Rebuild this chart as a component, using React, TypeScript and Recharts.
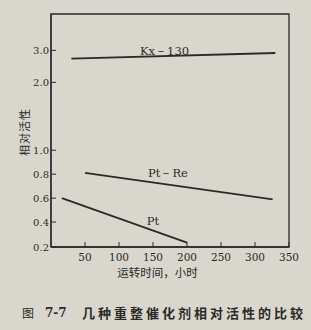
import React from "react";
import { LineChart, Line, XAxis, YAxis, ReferenceDot, ReferenceArea } from "recharts";

// ---- data ----
const TIME_KX = [30, 330];
const ACT_KX = [2.74, 2.92];
const TIME_PTRE = [50, 326];
const ACT_PTRE = [0.81, 0.59];
const TIME_PT = [16, 200];
const ACT_PT = [0.6, 0.235];

const X_TICKS = [50, 100, 150, 200, 250, 300, 350];
const Y_TICK_VALUES = [0.2, 0.4, 0.6, 0.8, 1.0, 2.0, 3.0];
const Y_TICK_LABELS = ["0.2", "0.4", "0.6", "0.8", "1.0", "2.0", "3.0"];
// the printed axis is non-uniform: position of each tick value on the axis
const Y_TICK_POS = [0, 25, 49, 73, 97, 165, 197];
const Y_TOP = 233.5;

const SERIES_LABELS = [
  { name: "Kx－130", t: 167, v: 3.0 },
  { name: "Pt－Re", t: 172, v: 0.81 },
  { name: "Pt", t: 150, v: 0.41 },
];

const X_TITLE = "运转时间，小时";
const Y_TITLE = "相对活性";
const CAPTION_FIG = "图";
const CAPTION_NO = "7-7";
const CAPTION = "几种重整催化剂相对活性的比较";

// piecewise-linear mapping of activity onto the printed axis
function toAxis(v: number): number {
  const k = Y_TICK_VALUES;
  const p = Y_TICK_POS;
  if (v <= k[0]) return p[0];
  for (let i = 1; i < k.length; i++) {
    if (v <= k[i]) return p[i - 1] + ((v - k[i - 1]) / (k[i] - k[i - 1])) * (p[i] - p[i - 1]);
  }
  const n = k.length - 1;
  return p[n] + ((v - k[n]) / (k[n] - k[n - 1])) * (p[n] - p[n - 1]);
}

const build = (ts: number[], vs: number[]) => ts.map((t, i) => ({ t, y: toAxis(vs[i]) }));
const kxData = build(TIME_KX, ACT_KX);
const ptreData = build(TIME_PTRE, ACT_PTRE);
const ptData = build(TIME_PT, ACT_PT);

const INK = "#2b2a28";
const BG = "#d9d6cd";
const NUM_FONT = "'DejaVu Serif', 'Liberation Serif', serif";
const CJK_FONT = "'Noto Sans CJK SC', sans-serif";

const XTick = (props: any) => {
  const { x, y, payload } = props;
  return (
    <g>
      <line x1={x} y1={y} x2={x} y2={y - 5} stroke={INK} strokeWidth={1} />
      <text x={x} y={y + 14} textAnchor="middle" fontSize={10.5} fontFamily={NUM_FONT} fill={INK}>
        {payload.value}
      </text>
    </g>
  );
};

const YTick = (props: any) => {
  const { x, y, payload } = props;
  const idx = Y_TICK_POS.indexOf(payload.value);
  return (
    <g>
      <line x1={x} y1={y} x2={x + 5} y2={y} stroke={INK} strokeWidth={1} />
      <text x={x - 2} y={y + 3.5} textAnchor="end" fontSize={10} fontFamily={NUM_FONT} fill={INK}>
        {idx >= 0 ? Y_TICK_LABELS[idx] : ""}
      </text>
    </g>
  );
};

export default function App() {
  return (
    <div style={{ position: "absolute", left: 0, top: 0, width: 311, height: 330, background: BG }}>
      <LineChart width={311} height={330} margin={{ top: 14, right: 22, bottom: 53, left: 11 }}>
        <XAxis
          xAxisId="b"
          dataKey="t"
          type="number"
          domain={[0, 350]}
          ticks={X_TICKS}
          height={30}
          tickSize={0}
          tickMargin={0}
          tickLine={false}
          tick={<XTick />}
          axisLine={{ stroke: INK, strokeWidth: 1.3 }}
          allowDataOverflow
        />
        <YAxis
          yAxisId="l"
          type="number"
          domain={[0, Y_TOP]}
          ticks={Y_TICK_POS}
          width={40}
          tickSize={0}
          tickMargin={0}
          tickLine={false}
          tick={<YTick />}
          axisLine={{ stroke: INK, strokeWidth: 1.3 }}
          allowDataOverflow
        />
        <ReferenceArea
          xAxisId="b"
          yAxisId="l"
          x1={0}
          x2={350}
          y1={0}
          y2={Y_TOP}
          fill="none"
          fillOpacity={0}
          stroke={INK}
          strokeWidth={1.3}
        />
        <Line xAxisId="b" yAxisId="l" data={kxData} dataKey="y" stroke={INK} strokeWidth={1.8} dot={false} isAnimationActive={false} />
        <Line xAxisId="b" yAxisId="l" data={ptreData} dataKey="y" stroke={INK} strokeWidth={1.8} dot={false} isAnimationActive={false} />
        <Line xAxisId="b" yAxisId="l" data={ptData} dataKey="y" stroke={INK} strokeWidth={1.8} dot={false} isAnimationActive={false} />
        {SERIES_LABELS.map((s) => (
          <ReferenceDot
            key={s.name}
            xAxisId="b"
            yAxisId="l"
            x={s.t}
            y={toAxis(s.v)}
            r={0}
            fill="none"
            stroke="none"
            label={{ value: s.name, position: "center", fontSize: 11.5, fontFamily: NUM_FONT, fill: INK }}
          />
        ))}
      </LineChart>
      <div
        style={{
          position: "absolute",
          left: 24 - 30,
          top: 132 - 8,
          width: 60,
          height: 16,
          transform: "rotate(-90deg)",
          textAlign: "center",
          fontFamily: CJK_FONT,
          fontSize: 11,
          lineHeight: "16px",
          color: INK,
          letterSpacing: 1,
        }}
      >
        {Y_TITLE}
      </div>
      <div
        style={{
          position: "absolute",
          left: 100,
          top: 264,
          width: 115,
          textAlign: "center",
          fontFamily: CJK_FONT,
          fontSize: 11.5,
          lineHeight: "16px",
          color: INK,
        }}
      >
        {X_TITLE}
      </div>
      <div style={{ position: "absolute", left: 22, top: 304, whiteSpace: "nowrap", fontFamily: CJK_FONT, fontSize: 12, lineHeight: "18px", color: INK }}>
        {CAPTION_FIG}
      </div>
      <div style={{ position: "absolute", left: 45, top: 304, whiteSpace: "nowrap", fontFamily: NUM_FONT, fontSize: 12, fontWeight: 700, lineHeight: "18px", color: INK }}>
        {CAPTION_NO}
      </div>
      <div style={{ position: "absolute", left: 82, top: 304, whiteSpace: "nowrap", fontFamily: CJK_FONT, fontSize: 13, fontWeight: 700, letterSpacing: 3, lineHeight: "18px", color: INK }}>
        {CAPTION}
      </div>
    </div>
  );
}
